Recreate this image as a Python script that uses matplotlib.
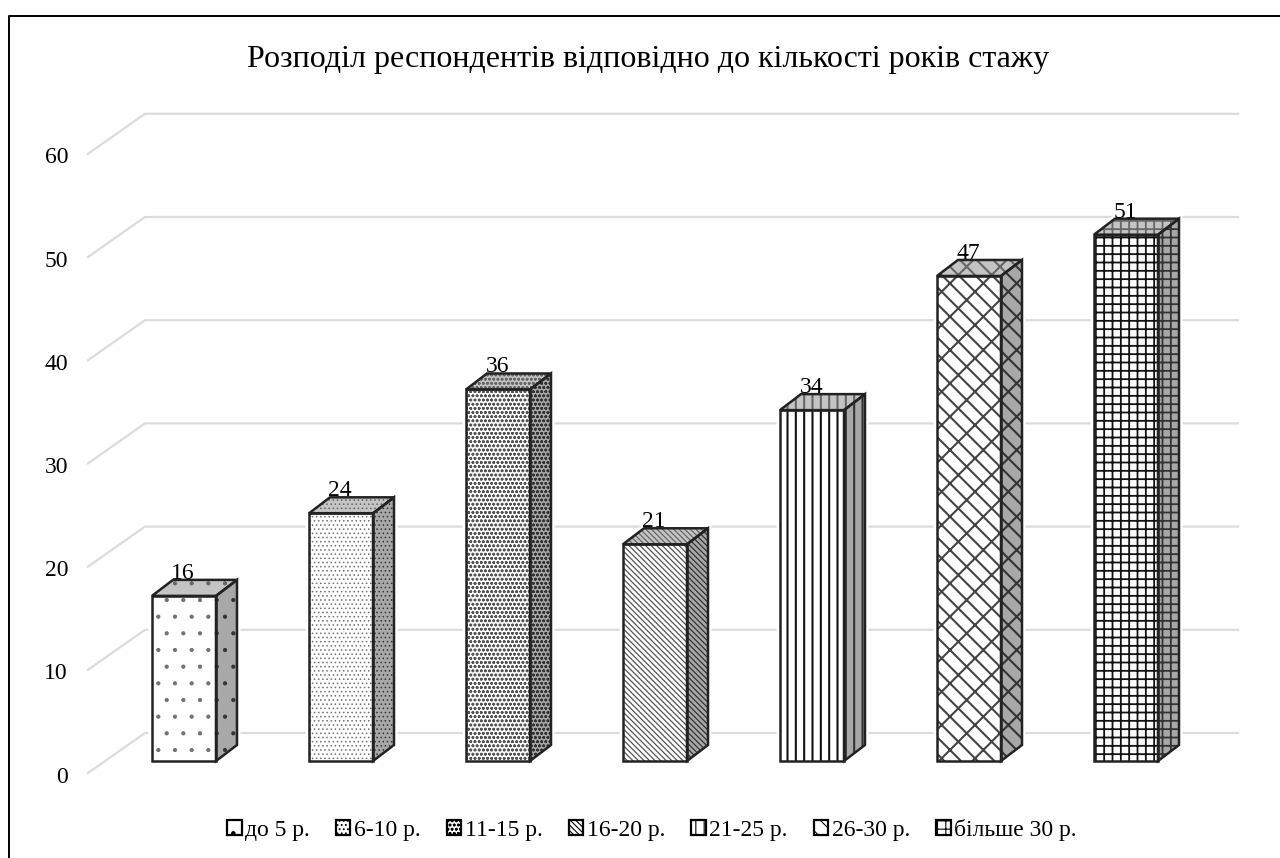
import matplotlib
matplotlib.use('Agg')
import matplotlib.pyplot as plt
from matplotlib.lines import Line2D
from matplotlib.patches import Patch, Polygon

plt.rcParams['font.family'] = ['Liberation Serif', 'DejaVu Serif']

title = 'Розподіл респондентів відповідно до кількості років стажу'
categories = ['до 5 р.', '6-10 р.', '11-15 р.', '16-20 р.', '21-25 р.', '26-30 р.', 'більше 30 р.']
values = [16, 24, 36, 21, 34, 47, 51]
y_ticks = [0, 10, 20, 30, 40, 50, 60]
hatches = ['.', '....', 'oooo', '\\\\\\\\\\\\', '||', '\\x', '++']
hatch_colors = ['#707070', '#707070', '#555555', '#555555', '#111111', '#444444', '#111111']
hatch_widths = [0.6, 0.6, 0.8, 0.9, 1.5, 1.5, 1.3]

fig = plt.figure(figsize=(12.8, 8.58), dpi=100)
ax = fig.add_axes([0, 0, 1, 1])

# pixel scale of the reference: one category = 157 px, one unit = 10.32 px
x_unit = 157.0
y_unit = 10.32
x0 = 184.0
y0 = 761.0
ax.set_xlim(-x0 / x_unit, (1280 - x0) / x_unit)
ax.set_ylim((y0 - 858) / y_unit, y0 / y_unit)
ax.axis('off')

bar_w = 64 / x_unit
dx = 21 / x_unit
dy = 16 / y_unit

# floor/wall offsets for the grid
front_x = (88 - x0) / x_unit
back_x = (145 - x0) / x_unit
end_x = (1238 - x0) / x_unit
front_dy = (y0 - 773) / y_unit
back_dy = (y0 - 733) / y_unit

for t in y_ticks:
    ax.plot([front_x, back_x, end_x], [t + front_dy, t + back_dy, t + back_dy],
            color='#dcdcdc', lw=1.6, zorder=1, solid_joinstyle='miter')
    ax.text((68 - x0) / x_unit, t + front_dy - 0.4, str(t), ha='right', va='center',
            fontsize=17, color='black')

for i, v in enumerate(values):
    plt.rcParams['hatch.linewidth'] = hatch_widths[i]
    l = i - bar_w / 2
    r = i + bar_w / 2
    front = [(l, 0), (r, 0), (r, v), (l, v)]
    side = [(r, 0), (r + dx, dy), (r + dx, v + dy), (r, v)]
    top = [(l, v), (r, v), (r + dx, v + dy), (l + dx, v + dy)]

    # white halo that breaks the grid lines round the bar
    outline = [(l, 0), (r, 0), (r + dx, dy), (r + dx, v + dy), (l + dx, v + dy), (l, v)]
    ax.add_patch(Polygon(outline, closed=True, fc='white', ec='white', lw=5, zorder=2))

    ax.add_patch(Polygon(side, closed=True, fc='#a8a8a8', ec='#333333', hatch=hatches[i], lw=0, zorder=3))
    ax.add_patch(Polygon(top, closed=True, fc='#c4c4c4', ec='#666666', hatch=hatches[i], lw=0, zorder=3))
    ax.add_patch(Polygon(front, closed=True, fc='white', ec=hatch_colors[i], hatch=hatches[i], lw=0, zorder=3))
    for face in (side, top, front):
        ax.add_patch(Polygon(face, closed=True, fill=False, ec='#222222', lw=1.8, zorder=4))

    ax.text(i - 0.005, v + dy + 0.1, str(v), ha='center', va='baseline', fontsize=17,
            color='black', zorder=5)

fig.text(648 / 1280, 1 - 60 / 858, title, ha='center', va='center', fontsize=23, color='black')

plt.rcParams['hatch.linewidth'] = 0.8
handles = [Patch(fc='white', ec='black', lw=1.6, hatch=h) for h in hatches]
ax.legend(handles, categories, loc='center', bbox_to_anchor=(652 / 1280, 1 - 830 / 858),
          ncol=7, frameon=False, fontsize=17, handlelength=0.6, handleheight=0.6,
          handletextpad=0.15, columnspacing=1.12)

# chart frame: only the left and top edges are inside the picture
fig.add_artist(Line2D([9 / 1280, 9 / 1280, 1280 / 1280], [0, 1 - 16 / 858, 1 - 16 / 858],
                      color='black', lw=1.4))

fig.savefig('out.png', dpi=100)
